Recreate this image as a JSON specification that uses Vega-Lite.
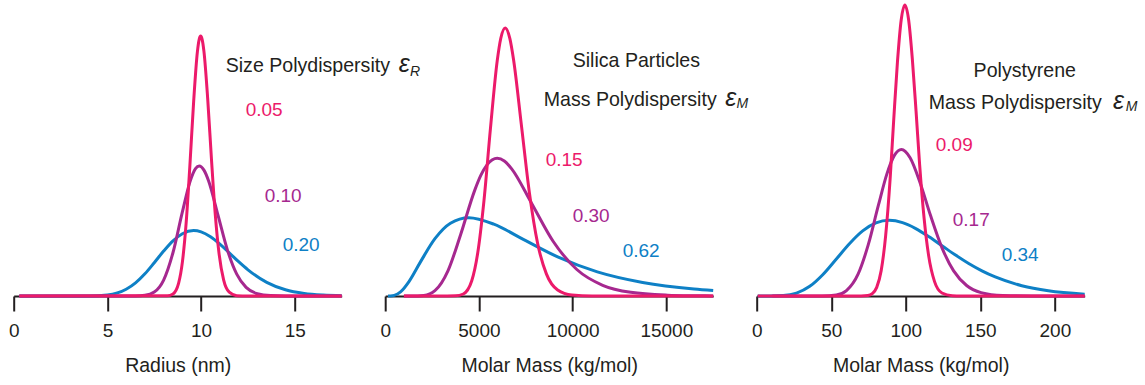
{
  "$schema": "https://vega.github.io/schema/vega-lite/v6.json",
  "padding": {"left": 7.7, "top": -2, "right": 5, "bottom": 0},
  "spacing": 43.5,
  "bounds": "flush",
  "config": {
    "view": {"stroke": null},
    "axisX": {"domainColor": "#231F20", "domainWidth": 2, "tickColor": "#231F20", "tickWidth": 2, "tickSize": 15, "labelFont": "Liberation Sans", "labelFontSize": 19, "labelColor": "#231F20", "labelPadding": 10.3, "titleFont": "Liberation Sans", "titleFontSize": 19.5, "titleFontWeight": "normal", "titleColor": "#231F20", "titlePadding": 16.5, "grid": false, "labelFlush": false, "labelOverlap": false}
  },
  "datasets": {
    "radius": [
      {"x":0.3,"y":0,"w":"broad"},{"x":3,"y":0,"w":"broad"},{"x":4,"y":0.0002,"w":"broad"},{"x":5,"y":0.0035,"w":"broad"},{"x":6,"y":0.0229,"w":"broad"},{"x":6.5,"y":0.0448,"w":"broad"},{"x":7,"y":0.076,"w":"broad"},{"x":7.5,"y":0.1141,"w":"broad"},{"x":8,"y":0.1538,"w":"broad"},{"x":8.5,"y":0.1889,"w":"broad"},{"x":9,"y":0.2133,"w":"broad"},{"x":9.6,"y":0.224,"w":"broad"},{"x":10,"y":0.2195,"w":"broad"},{"x":10.5,"y":0.2028,"w":"broad"},{"x":11,"y":0.1775,"w":"broad"},{"x":11.5,"y":0.1478,"w":"broad"},{"x":12,"y":0.1176,"w":"broad"},{"x":12.5,"y":0.0897,"w":"broad"},{"x":13.5,"y":0.0467,"w":"broad"},{"x":14.5,"y":0.0213,"w":"broad"},{"x":15.5,"y":0.0087,"w":"broad"},{"x":16.5,"y":0.0032,"w":"broad"},{"x":17.5,"y":0.0011,"w":"broad"},
      {"x":0.3,"y":0,"w":"medium"},{"x":6.5,"y":0.0002,"w":"medium"},{"x":7,"y":0.0022,"w":"medium"},{"x":7.5,"y":0.0136,"w":"medium"},{"x":8,"y":0.0547,"w":"medium"},{"x":8.5,"y":0.149,"w":"medium"},{"x":9,"y":0.288,"w":"medium"},{"x":9.4,"y":0.39,"w":"medium"},{"x":9.7,"y":0.436,"w":"medium"},{"x":9.9,"y":0.445,"w":"medium"},{"x":10.15,"y":0.431,"w":"medium"},{"x":10.4,"y":0.394,"w":"medium"},{"x":10.9,"y":0.277,"w":"medium"},{"x":11.4,"y":0.158,"w":"medium"},{"x":11.9,"y":0.0748,"w":"medium"},{"x":12.4,"y":0.0296,"w":"medium"},{"x":13,"y":0.0079,"w":"medium"},{"x":13.7,"y":0.0013,"w":"medium"},{"x":14.5,"y":0.0001,"w":"medium"},{"x":17.5,"y":0,"w":"medium"},
      {"x":0.3,"y":0,"w":"narrow"},{"x":8.2,"y":0.0007,"w":"narrow"},{"x":8.5,"y":0.007,"w":"narrow"},{"x":8.8,"y":0.0442,"w":"narrow"},{"x":9,"y":0.1159,"w":"narrow"},{"x":9.2,"y":0.2492,"w":"narrow"},{"x":9.4,"y":0.4464,"w":"narrow"},{"x":9.6,"y":0.665,"w":"narrow"},{"x":9.8,"y":0.836,"w":"narrow"},{"x":9.9,"y":0.88,"w":"narrow"},{"x":9.975,"y":0.89,"w":"narrow"},{"x":10.05,"y":0.88,"w":"narrow"},{"x":10.15,"y":0.838,"w":"narrow"},{"x":10.35,"y":0.676,"w":"narrow"},{"x":10.55,"y":0.47,"w":"narrow"},{"x":10.75,"y":0.283,"w":"narrow"},{"x":10.95,"y":0.1486,"w":"narrow"},{"x":11.2,"y":0.0551,"w":"narrow"},{"x":11.5,"y":0.0129,"w":"narrow"},{"x":11.9,"y":0.0012,"w":"narrow"},{"x":12.5,"y":0,"w":"narrow"},{"x":17.5,"y":0,"w":"narrow"}
    ],
    "silica": [
      {"x":150,"y":0,"w":"broad"},{"x":281,"y":0.0002,"w":"broad"},{"x":485,"y":0.0023,"w":"broad"},{"x":819,"y":0.0142,"w":"broad"},{"x":1278,"y":0.0504,"w":"broad"},{"x":1883,"y":0.1169,"w":"broad"},{"x":2654,"y":0.1962,"w":"broad"},{"x":3481,"y":0.249,"w":"broad"},{"x":4464,"y":0.268,"w":"broad"},{"x":5795,"y":0.246,"w":"broad"},{"x":7368,"y":0.1937,"w":"broad"},{"x":9202,"y":0.1338,"w":"broad"},{"x":11318,"y":0.0826,"w":"broad"},{"x":13736,"y":0.0463,"w":"broad"},{"x":16476,"y":0.0237,"w":"broad"},{"x":17500,"y":0.0185,"w":"broad"},
      {"x":1000,"y":0,"w":"medium"},{"x":1415,"y":0,"w":"medium"},{"x":2060,"y":0.002,"w":"medium"},{"x":2654,"y":0.0183,"w":"medium"},{"x":3354,"y":0.0871,"w":"medium"},{"x":4023,"y":0.21,"w":"medium"},{"x":4775,"y":0.3618,"w":"medium"},{"x":5100,"y":0.413,"w":"medium"},{"x":5440,"y":0.45,"w":"medium"},{"x":5978,"y":0.472,"w":"medium"},{"x":6355,"y":0.4626,"w":"medium"},{"x":6748,"y":0.4355,"w":"medium"},{"x":7801,"y":0.3187,"w":"medium"},{"x":8958,"y":0.1876,"w":"medium"},{"x":10224,"y":0.0907,"w":"medium"},{"x":11604,"y":0.0367,"w":"medium"},{"x":13102,"y":0.0125,"w":"medium"},{"x":15065,"y":0.0028,"w":"medium"},{"x":16476,"y":0.0009,"w":"medium"},{"x":17500,"y":0.0004,"w":"medium"},
      {"x":1000,"y":0,"w":"narrow"},{"x":3300,"y":0,"w":"narrow"},{"x":3745,"y":0.0005,"w":"narrow"},{"x":4166,"y":0.0069,"w":"narrow"},{"x":4618,"y":0.0523,"w":"narrow"},{"x":4936,"y":0.1472,"w":"narrow"},{"x":5269,"y":0.3261,"w":"narrow"},{"x":5616,"y":0.5738,"w":"narrow"},{"x":5978,"y":0.806,"w":"narrow"},{"x":6165,"y":0.882,"w":"narrow"},{"x":6404,"y":0.918,"w":"narrow"},{"x":6649,"y":0.882,"w":"narrow"},{"x":6849,"y":0.809,"w":"narrow"},{"x":7262,"y":0.5877,"w":"narrow"},{"x":7691,"y":0.355,"w":"narrow"},{"x":8137,"y":0.179,"w":"narrow"},{"x":8600,"y":0.0757,"w":"narrow"},{"x":9202,"y":0.0204,"w":"narrow"},{"x":9962,"y":0.0031,"w":"narrow"},{"x":11038,"y":0.0001,"w":"narrow"},{"x":17500,"y":0,"w":"narrow"}
    ],
    "ps": [
      {"x":0.7,"y":0,"w":"broad"},{"x":8.9,"y":0,"w":"broad"},{"x":17.8,"y":0.0013,"w":"broad"},{"x":26.7,"y":0.0098,"w":"broad"},{"x":35.6,"y":0.0331,"w":"broad"},{"x":44.45,"y":0.0738,"w":"broad"},{"x":53.3,"y":0.126,"w":"broad"},{"x":62.2,"y":0.179,"w":"broad"},{"x":71.1,"y":0.2229,"w":"broad"},{"x":80,"y":0.2501,"w":"broad"},{"x":88.9,"y":0.259,"w":"broad"},{"x":97.8,"y":0.2512,"w":"broad"},{"x":106.7,"y":0.2309,"w":"broad"},{"x":115.6,"y":0.2028,"w":"broad"},{"x":124.5,"y":0.1714,"w":"broad"},{"x":133.35,"y":0.1401,"w":"broad"},{"x":142.2,"y":0.1113,"w":"broad"},{"x":151.1,"y":0.0861,"w":"broad"},{"x":160,"y":0.0652,"w":"broad"},{"x":177.8,"y":0.0352,"w":"broad"},{"x":195.6,"y":0.0178,"w":"broad"},{"x":220,"y":0.0064,"w":"broad"},
      {"x":10.5,"y":0,"w":"medium"},{"x":34,"y":0,"w":"medium"},{"x":43.7,"y":0.0001,"w":"medium"},{"x":53.4,"y":0.0035,"w":"medium"},{"x":60.2,"y":0.0186,"w":"medium"},{"x":68,"y":0.0747,"w":"medium"},{"x":74.8,"y":0.175,"w":"medium"},{"x":81.6,"y":0.31,"w":"medium"},{"x":87.4,"y":0.419,"w":"medium"},{"x":92.25,"y":0.4807,"w":"medium"},{"x":97.1,"y":0.502,"w":"medium"},{"x":102.9,"y":0.4736,"w":"medium"},{"x":109.7,"y":0.3865,"w":"medium"},{"x":116.5,"y":0.2772,"w":"medium"},{"x":124.3,"y":0.1649,"w":"medium"},{"x":132.1,"y":0.0859,"w":"medium"},{"x":140.8,"y":0.036,"w":"medium"},{"x":150.5,"y":0.0117,"w":"medium"},{"x":165.1,"y":0.0017,"w":"medium"},{"x":184.5,"y":0.0001,"w":"medium"},{"x":220,"y":0,"w":"medium"},
      {"x":0.7,"y":0,"w":"narrow"},{"x":70,"y":0,"w":"narrow"},{"x":74.55,"y":0.0016,"w":"narrow"},{"x":77.5,"y":0.0079,"w":"narrow"},{"x":80.5,"y":0.0294,"w":"narrow"},{"x":83.5,"y":0.0869,"w":"narrow"},{"x":86.5,"y":0.2066,"w":"narrow"},{"x":89.5,"y":0.4008,"w":"narrow"},{"x":91.9,"y":0.6028,"w":"narrow"},{"x":94.4,"y":0.8007,"w":"narrow"},{"x":96.9,"y":0.9445,"w":"narrow"},{"x":99.4,"y":0.997,"w":"narrow"},{"x":101.9,"y":0.9463,"w":"narrow"},{"x":104.4,"y":0.8116,"w":"narrow"},{"x":106.9,"y":0.6322,"w":"narrow"},{"x":109.3,"y":0.4491,"w":"narrow"},{"x":112.3,"y":0.2657,"w":"narrow"},{"x":115.3,"y":0.1392,"w":"narrow"},{"x":119.3,"y":0.0493,"w":"narrow"},{"x":124.25,"y":0.0104,"w":"narrow"},{"x":131.2,"y":0.0007,"w":"narrow"},{"x":137,"y":0,"w":"narrow"},{"x":220,"y":0,"w":"narrow"}
    ],
    "notes": [
      {"p":1,"k":"label","x":11.31,"y":0.767,"t":"Size Polydispersity"},
      {"p":1,"k":"eps","x":20.55,"y":0.767,"t":"ε"},
      {"p":1,"k":"sub","x":21.15,"y":0.754,"t":"R"},
      {"p":1,"k":"val","x":12.38,"y":0.616,"t":"0.05","w":"narrow"},
      {"p":1,"k":"val","x":13.39,"y":0.322,"t":"0.10","w":"medium"},
      {"p":1,"k":"val","x":14.35,"y":0.154,"t":"0.20","w":"broad"},
      {"p":2,"k":"label","x":10004,"y":0.784,"t":"Silica Particles"},
      {"p":2,"k":"label","x":8456,"y":0.651,"t":"Mass Polydispersity"},
      {"p":2,"k":"eps","x":18150,"y":0.651,"t":"ε"},
      {"p":2,"k":"sub","x":18750,"y":0.644,"t":"M"},
      {"p":2,"k":"val","x":8563,"y":0.445,"t":"0.15","w":"narrow"},
      {"p":2,"k":"val","x":10004,"y":0.253,"t":"0.30","w":"medium"},
      {"p":2,"k":"val","x":12672,"y":0.134,"t":"0.62","w":"broad"},
      {"p":3,"k":"label","x":145.5,"y":0.75,"t":"Polystyrene"},
      {"p":3,"k":"label","x":115.4,"y":0.64,"t":"Mass Polydispersity"},
      {"p":3,"k":"eps","x":239.0,"y":0.64,"t":"ε"},
      {"p":3,"k":"sub","x":247.6,"y":0.635,"t":"M"},
      {"p":3,"k":"val","x":120.1,"y":0.497,"t":"0.09","w":"narrow"},
      {"p":3,"k":"val","x":131.5,"y":0.24,"t":"0.17","w":"medium"},
      {"p":3,"k":"val","x":164.3,"y":0.12,"t":"0.34","w":"broad"}
    ]
  },
  "hconcat": [
    {
      "width": 328, "height": 292,
      "encoding": {
        "x": {"field": "x", "type": "quantitative", "scale": {"domain": [0, 17.5], "nice": false, "zero": false}, "axis": {"values": [0, 5, 10, 15], "title": "Radius (nm)"}},
        "y": {"field": "y", "type": "quantitative", "scale": {"domain": [0, 1], "nice": false}, "axis": null},
        "color": {"field": "w", "type": "nominal", "scale": {"domain": ["narrow", "medium", "broad"], "range": ["#EC1A6A", "#A6288F", "#0E80C6"]}, "legend": null}
      },
      "layer": [
        {"data": {"name": "radius"}, "transform": [{"filter": "datum.w === 'broad'"}], "mark": {"type": "line", "interpolate": "monotone", "strokeWidth": 3}},
        {"data": {"name": "radius"}, "transform": [{"filter": "datum.w === 'medium'"}], "mark": {"type": "line", "interpolate": "monotone", "strokeWidth": 3}},
        {"data": {"name": "radius"}, "transform": [{"filter": "datum.w === 'narrow'"}], "mark": {"type": "line", "interpolate": "monotone", "strokeWidth": 3}},
        {"data": {"name": "notes"}, "transform": [{"filter": "datum.p === 1 && datum.k === 'label'"}], "mark": {"type": "text", "align": "left", "baseline": "alphabetic", "font": "Liberation Sans", "fontSize": 19.6}, "encoding": {"text": {"field": "t"}, "color": {"value": "#231F20"}}},
        {"data": {"name": "notes"}, "transform": [{"filter": "datum.p === 1 && datum.k === 'eps'"}], "mark": {"type": "text", "align": "left", "baseline": "alphabetic", "font": "Liberation Sans", "fontSize": 25, "fontStyle": "italic"}, "encoding": {"text": {"field": "t"}, "color": {"value": "#231F20"}}},
        {"data": {"name": "notes"}, "transform": [{"filter": "datum.p === 1 && datum.k === 'sub'"}], "mark": {"type": "text", "align": "left", "baseline": "alphabetic", "font": "Liberation Sans", "fontSize": 14, "fontStyle": "italic"}, "encoding": {"text": {"field": "t"}, "color": {"value": "#231F20"}}},
        {"data": {"name": "notes"}, "transform": [{"filter": "datum.p === 1 && datum.k === 'val'"}], "mark": {"type": "text", "align": "left", "baseline": "alphabetic", "font": "Liberation Sans", "fontSize": 19}, "encoding": {"text": {"field": "t"}}}
      ]
    },
    {
      "width": 328, "height": 292,
      "encoding": {
        "x": {"field": "x", "type": "quantitative", "scale": {"domain": [0, 17500], "nice": false, "zero": false}, "axis": {"values": [0, 5000, 10000, 15000], "format": "d", "title": "Molar Mass (kg/mol)"}},
        "y": {"field": "y", "type": "quantitative", "scale": {"domain": [0, 1], "nice": false}, "axis": null},
        "color": {"field": "w", "type": "nominal", "scale": {"domain": ["narrow", "medium", "broad"], "range": ["#EC1A6A", "#A6288F", "#0E80C6"]}, "legend": null}
      },
      "layer": [
        {"data": {"name": "silica"}, "transform": [{"filter": "datum.w === 'broad'"}], "mark": {"type": "line", "interpolate": "monotone", "strokeWidth": 3}},
        {"data": {"name": "silica"}, "transform": [{"filter": "datum.w === 'medium'"}], "mark": {"type": "line", "interpolate": "monotone", "strokeWidth": 3}},
        {"data": {"name": "silica"}, "transform": [{"filter": "datum.w === 'narrow'"}], "mark": {"type": "line", "interpolate": "monotone", "strokeWidth": 3}},
        {"data": {"name": "notes"}, "transform": [{"filter": "datum.p === 2 && datum.k === 'label'"}], "mark": {"type": "text", "align": "left", "baseline": "alphabetic", "font": "Liberation Sans", "fontSize": 19.6}, "encoding": {"text": {"field": "t"}, "color": {"value": "#231F20"}}},
        {"data": {"name": "notes"}, "transform": [{"filter": "datum.p === 2 && datum.k === 'eps'"}], "mark": {"type": "text", "align": "left", "baseline": "alphabetic", "font": "Liberation Sans", "fontSize": 25, "fontStyle": "italic"}, "encoding": {"text": {"field": "t"}, "color": {"value": "#231F20"}}},
        {"data": {"name": "notes"}, "transform": [{"filter": "datum.p === 2 && datum.k === 'sub'"}], "mark": {"type": "text", "align": "left", "baseline": "alphabetic", "font": "Liberation Sans", "fontSize": 14, "fontStyle": "italic"}, "encoding": {"text": {"field": "t"}, "color": {"value": "#231F20"}}},
        {"data": {"name": "notes"}, "transform": [{"filter": "datum.p === 2 && datum.k === 'val'"}], "mark": {"type": "text", "align": "left", "baseline": "alphabetic", "font": "Liberation Sans", "fontSize": 19}, "encoding": {"text": {"field": "t"}}}
      ]
    },
    {
      "width": 328, "height": 292,
      "encoding": {
        "x": {"field": "x", "type": "quantitative", "scale": {"domain": [0, 220], "nice": false, "zero": false}, "axis": {"values": [0, 50, 100, 150, 200], "title": "Molar Mass (kg/mol)"}},
        "y": {"field": "y", "type": "quantitative", "scale": {"domain": [0, 1], "nice": false}, "axis": null},
        "color": {"field": "w", "type": "nominal", "scale": {"domain": ["narrow", "medium", "broad"], "range": ["#EC1A6A", "#A6288F", "#0E80C6"]}, "legend": null}
      },
      "layer": [
        {"data": {"name": "ps"}, "transform": [{"filter": "datum.w === 'broad'"}], "mark": {"type": "line", "interpolate": "monotone", "strokeWidth": 3}},
        {"data": {"name": "ps"}, "transform": [{"filter": "datum.w === 'medium'"}], "mark": {"type": "line", "interpolate": "monotone", "strokeWidth": 3}},
        {"data": {"name": "ps"}, "transform": [{"filter": "datum.w === 'narrow'"}], "mark": {"type": "line", "interpolate": "monotone", "strokeWidth": 3}},
        {"data": {"name": "notes"}, "transform": [{"filter": "datum.p === 3 && datum.k === 'label'"}], "mark": {"type": "text", "align": "left", "baseline": "alphabetic", "font": "Liberation Sans", "fontSize": 19.6}, "encoding": {"text": {"field": "t"}, "color": {"value": "#231F20"}}},
        {"data": {"name": "notes"}, "transform": [{"filter": "datum.p === 3 && datum.k === 'eps'"}], "mark": {"type": "text", "align": "left", "baseline": "alphabetic", "font": "Liberation Sans", "fontSize": 25, "fontStyle": "italic"}, "encoding": {"text": {"field": "t"}, "color": {"value": "#231F20"}}},
        {"data": {"name": "notes"}, "transform": [{"filter": "datum.p === 3 && datum.k === 'sub'"}], "mark": {"type": "text", "align": "left", "baseline": "alphabetic", "font": "Liberation Sans", "fontSize": 14, "fontStyle": "italic"}, "encoding": {"text": {"field": "t"}, "color": {"value": "#231F20"}}},
        {"data": {"name": "notes"}, "transform": [{"filter": "datum.p === 3 && datum.k === 'val'"}], "mark": {"type": "text", "align": "left", "baseline": "alphabetic", "font": "Liberation Sans", "fontSize": 19}, "encoding": {"text": {"field": "t"}}}
      ]
    }
  ]
}
